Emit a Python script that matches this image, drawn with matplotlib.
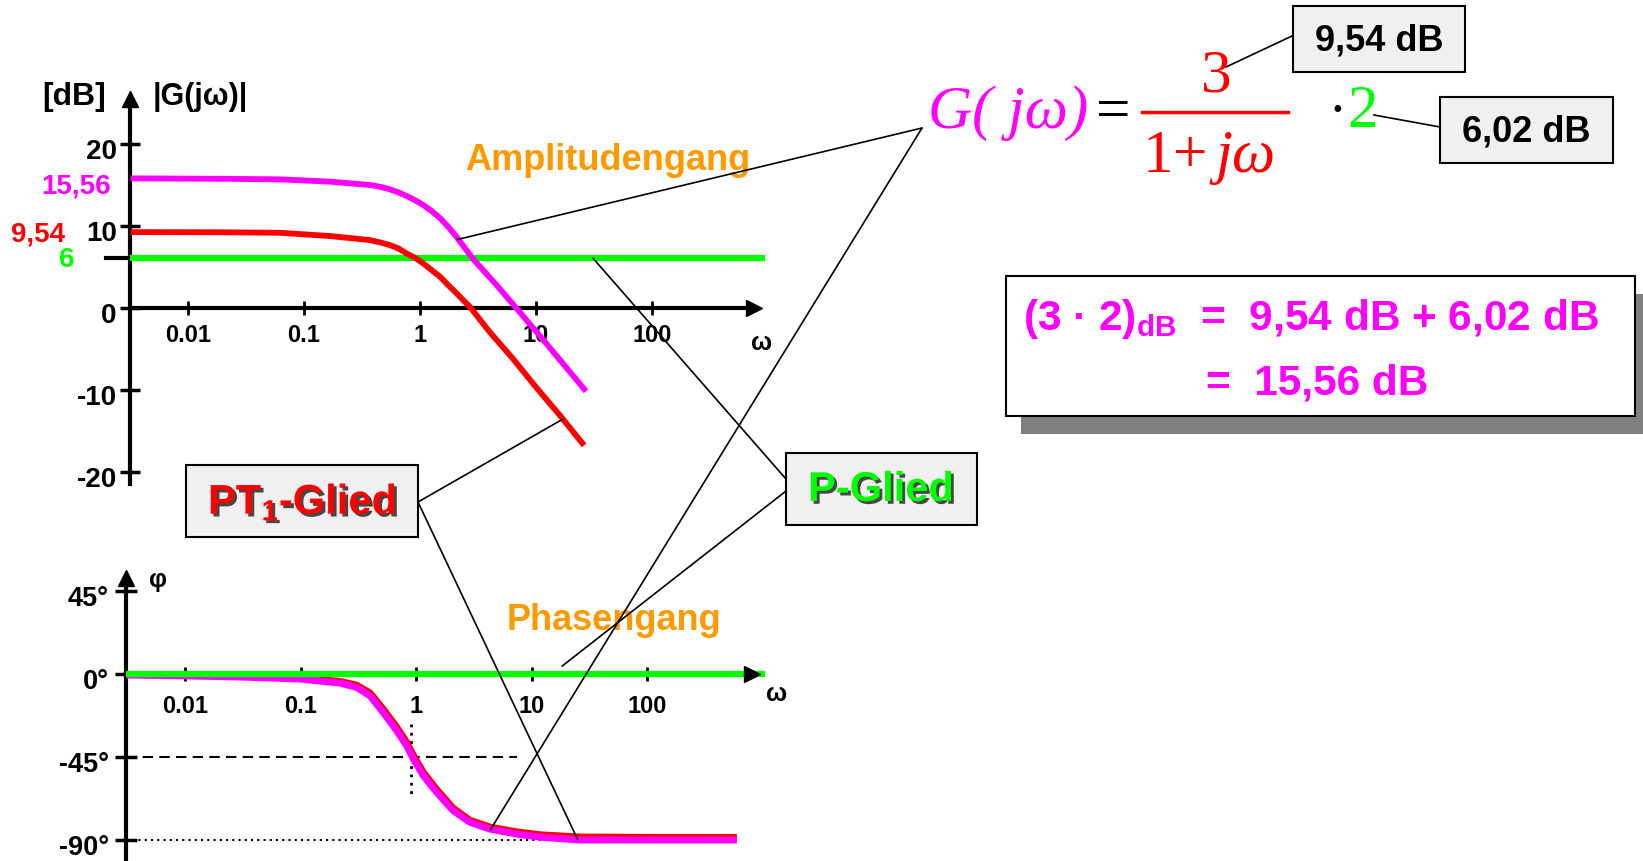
import matplotlib
matplotlib.use('Agg')
import matplotlib.pyplot as plt
import matplotlib.patheffects as pe
from matplotlib.patches import Rectangle, ConnectionPatch
from matplotlib.ticker import NullLocator
from matplotlib.transforms import ScaledTranslation

# Bode plot of G(jw) = 3/(1+jw) * 2
omega_ticks = [0.01, 0.1, 1, 10, 100]
omega_labels = ['0.01', '0.1', '1', '10', '100']
amp_ticks = [-20, -10, 0, 10, 20]
phase_ticks = [45, 0, -45, -90]
phase_labels = ['45°', '0°', '-45°', '-90°']

# amplitude [dB]
w_pt1 = [0.0032, 0.02, 0.062, 0.168, 0.371, 0.452, 0.551, 0.65, 0.768, 0.905, 1.067, 1.26, 1.49,
         1.75, 2.07, 2.36, 2.69, 4.0, 6.3, 10, 16, 26]
db_pt1 = [9.2, 9.18, 9.12, 8.72, 8.23, 7.95, 7.62, 7.22, 6.6, 6.07, 5.39, 4.57, 3.76,
          2.74, 1.73, 0.9, 0.1, -3.0, -6.2, -9.7, -13.1, -16.8]
w_tot = [0.0032, 0.02, 0.062, 0.168, 0.371, 0.452, 0.551, 0.65, 0.768, 0.905, 1.067, 1.26, 1.49,
         1.75, 2.07, 2.88, 4.6, 6.9, 12.3, 27]
db_tot = [15.75, 15.7, 15.63, 15.35, 14.94, 14.73, 14.41, 14.05, 13.6, 13.1, 12.5, 11.77, 10.9,
          9.85, 8.6, 5.9, 2.7, -0.2, -4.4, -10.2]
w_p = [0.0032, 890]
db_p = [6.02, 6.02]

# phase [deg]
w_ph = [0.0031, 0.01, 0.03, 0.099, 0.22, 0.306, 0.40, 0.52, 0.68, 0.83, 0.95, 1.16, 1.51, 2.1,
        2.93, 4.37, 7.45, 12, 26, 100, 600]
ph_tot = [-0.5, -1, -1.6, -2.7, -4.9, -7.2, -11.8, -20.8, -30.7, -38.9, -46.1, -55.2, -64.2, -74.1,
          -80.4, -84.1, -86.8, -88.5, -90, -90, -90]
ph_pt1 = [-0.2, -0.6, -1.1, -2.0, -4.0, -6.0, -10.3, -19.0, -28.8, -37.0, -44.2, -53.4, -62.6, -72.8,
          -79.3, -83.0, -85.6, -87.2, -88.4, -88.6, -88.6]
w_ph_p = [0.0031, 1000]
ph_p = [0, 0]

W, H = 1643, 862
MAG, RED, GRN, ORA = '#FF00FF', '#FF0000', '#00FF00', '#FF9900'

plt.rcParams['font.family'] = ['Liberation Sans', 'DejaVu Sans']
plt.rcParams['font.weight'] = 'bold'
plt.rcParams['mathtext.fontset'] = 'custom'
plt.rcParams['mathtext.rm'] = 'Liberation Sans:bold'
plt.rcParams['mathtext.bf'] = 'Liberation Sans:bold'
plt.rcParams['mathtext.it'] = 'Liberation Sans:bold:italic'

fig = plt.figure(figsize=(W / 100, H / 100), dpi=100)


def rect(x0, y0, x1, y1):
    return [x0 / W, 1 - y1 / H, (x1 - x0) / W, (y1 - y0) / H]


def style_axes(ax, xlim, ylim, x_end, y_top_frac):
    ax.set_xscale('log')
    ax.set_xlim(*xlim)
    ax.set_ylim(*ylim)
    ax.patch.set_visible(False)
    ax.xaxis.set_minor_locator(NullLocator())
    for s in ('top', 'right'):
        ax.spines[s].set_visible(False)
    ax.spines['bottom'].set_position(('data', 0))
    ax.spines['bottom'].set_bounds(xlim[0], x_end)
    ax.spines['left'].set_bounds(ylim[0], ylim[0] + (ylim[1] - ylim[0]) * y_top_frac)
    for s in ('bottom', 'left'):
        ax.spines[s].set_linewidth(3)
    ax.plot([x_end], [0], marker='>', ms=11, color='k', clip_on=False, zorder=4)
    ax.plot([0], [y_top_frac], marker='^', ms=11, color='k', clip_on=False,
            transform=ax.transAxes, zorder=4)


def shift_labels(labels, dy_px):
    off = ScaledTranslation(0, -dy_px / 100, fig.dpi_scale_trans)
    for lbl in labels:
        lbl.set_transform(lbl.get_transform() + off)


curve = dict(solid_joinstyle='round', solid_capstyle='butt')

# ---- amplitude ----
ax_a = fig.add_axes(rect(130, 92, 770, 485))
style_axes(ax_a, (10 ** -2.5, 10 ** (350 / 116)), (-21.5, 26.4), 10 ** ((754 - 420) / 116), 0.98)
ax_a.set_xticks(omega_ticks)
ax_a.set_xticklabels(omega_labels, fontsize=17)
ax_a.set_yticks(amp_ticks)
ax_a.set_yticklabels([str(t) for t in amp_ticks], fontsize=20)
ax_a.tick_params(axis='x', direction='inout', length=10, width=2, pad=6)
ax_a.tick_params(axis='y', direction='inout', length=15, width=2.5, pad=2)
shift_labels(ax_a.get_yticklabels(), 4)
ax_a.plot([-0.0375, 0], [6, 6], color='k', lw=3, transform=ax_a.get_yaxis_transform(), clip_on=False)
ax_a.plot(w_p, db_p, color=GRN, lw=4.5, zorder=3)
ax_a.plot(w_pt1, db_pt1, color=RED, lw=4.2, zorder=3.2, **curve)
ax_a.plot(w_tot, db_tot, color=MAG, lw=4.2, zorder=3.3, **curve)

# ---- phase ----
ax_p = fig.add_axes(rect(126, 572, 770, 862))
style_axes(ax_p, (10 ** -2.511, 10 ** 3.065), (-101.4, 55.9), 10 ** ((752 - 416) / 115.5), 0.975)
ax_p.set_xticks(omega_ticks)
ax_p.set_xticklabels(omega_labels, fontsize=17)
ax_p.set_yticks(phase_ticks)
ax_p.set_yticklabels(phase_labels, fontsize=19.5)
ax_p.tick_params(axis='x', direction='inout', length=10, width=2, pad=9)
ax_p.tick_params(axis='y', direction='inout', length=16.5, width=2.5, pad=4)
shift_labels(ax_p.get_yticklabels(), 4)
ax_p.plot([10 ** -2.511, 7.5], [-45, -45], color='k', lw=1.5, ls=(0, (5, 3)))
ax_p.plot([0.9, 0.9], [-27, -67], color='k', lw=2, ls=(0, (1, 2)))
ax_p.plot([10 ** -2.511, 20], [-90, -90], color='k', lw=1.5, ls=(0, (1, 2)))
ax_p.plot(w_ph, ph_pt1, color=RED, lw=5, zorder=3.2, **curve)
ax_p.plot(w_ph, ph_tot, color=MAG, lw=5, zorder=3.3, **curve)
ax_p.plot(w_ph_p, ph_p, color=GRN, lw=4.5, zorder=3.4)

# ---- overlay in pixel coordinates ----
ov = fig.add_axes([0, 0, 1, 1])
ov.set_xlim(0, W)
ov.set_ylim(H, 0)
ov.axis('off')
ov.patch.set_visible(False)

ov.text(74, 97, '[dB]', fontsize=23, ha='center', va='center')
ov.text(153, 97, '|G(jω)|', fontsize=22, ha='left', va='center')
ov.text(111, 186, '15,56', fontsize=20, color=MAG, ha='right', va='center')
ov.text(65, 235, '9,54', fontsize=20, color=RED, ha='right', va='center')
ov.text(75, 260, '6', fontsize=20, color=GRN, ha='right', va='center')
ov.text(762, 343, 'ω', fontsize=18, ha='center', va='center')
ov.text(777, 694, 'ω', fontsize=18, ha='center', va='center')
ov.text(158, 580, 'φ', fontsize=18, ha='center', va='center')
ov.text(608, 160, 'Amplitudengang', fontsize=26, color=ORA, ha='center', va='center')
ov.text(614, 621, 'Phasengang', fontsize=26, color=ORA, ha='center', va='center')

# formula
serif = dict(family='Liberation Serif', fontweight='normal', fontsize=44, va='baseline')
ov.text(1008, 128, 'G( jω)', color=MAG, style='italic', ha='center', **serif)
ov.text(1113, 129, '=', color='k', ha='center', **serif)
ov.plot([1142, 1288], [113, 113], color=RED, lw=2.5)
ov.text(1216, 92, '3', color=RED, ha='center', **serif)
ov.text(1158, 172, '1', color=RED, ha='center', **serif)
ov.text(1190, 172, '+', color=RED, ha='center', **serif)
ov.text(1216, 172, 'jω', color=RED, style='italic', ha='left', **serif)
ov.text(1337, 113, '·', color='k', fontsize=30, fontweight='bold', family='Liberation Serif',
        ha='center', va='center')
ov.text(1363, 127, '2', color=GRN, ha='center', **serif)

for (x0, y0, x1, y1), txt in [((1293, 7, 1465, 73), '9,54 dB'), ((1440, 98, 1613, 164), '6,02 dB')]:
    ov.add_patch(Rectangle((x0, y0), x1 - x0, y1 - y0, fc='#F0F0F0', ec='k', lw=1.5))
    ov.text((x0 + x1) / 2, (y0 + y1) / 2 + 1, txt, fontsize=26, ha='center', va='center')
ov.plot([1226, 1292], [68, 37], color='k', lw=1.2)
ov.plot([1374, 1440], [116, 128], color='k', lw=1.2)

# result box with shadow
ov.add_patch(Rectangle((1021, 295), 640, 140, fc='#808080', ec='none'))
ov.add_patch(Rectangle((1006, 277), 629, 140, fc='white', ec='k', lw=1.5))
ov.text(1023, 330, r'(3 · 2)$_{\mathbf{dB}}$  =  9,54 dB + 6,02 dB', fontsize=30.5, color=MAG,
        ha='left', va='baseline')
ov.text(1317, 395, '=  15,56 dB', fontsize=30.5, color=MAG, ha='center', va='baseline')

# element boxes
shadow = [pe.withSimplePatchShadow(offset=(2, -2), shadow_rgbFace='k', alpha=0.7)]
ov.add_patch(Rectangle((186, 466), 232, 72, fc='#F0F0F0', ec='k', lw=1.5))
ov.text(302, 503, r'PT$_\mathbf{1}$-Glied', fontsize=30, color=RED, ha='center', va='center',
        path_effects=shadow)
ov.add_patch(Rectangle((786, 454), 191, 72, fc='#F0F0F0', ec='k', lw=1.5))
ov.text(881, 491, 'P-Glied', fontsize=30, color=GRN, ha='center', va='center',
        path_effects=shadow)

# connector lines: curve points (data) -> label anchors (pixels)
links = [
    (ax_a, (2.1, 8.3), (922, 129)),
    (ax_p, (4.4, -84.5), (922, 129)),
    (ax_a, (17.0, -13.6), (418, 503)),
    (ax_p, (25.0, -89.5), (418, 503)),
    (ax_a, (31.0, 6.02), (786, 480)),
    (ax_p, (18.4, 4.3), (786, 492)),
]
for ax, pa, pb in links:
    con = ConnectionPatch(xyA=pa, coordsA=ax.transData, xyB=pb, coordsB=ov.transData,
                          color='k', lw=1.2, zorder=6)
    ov.add_artist(con)

fig.savefig('out.png', dpi=100)
